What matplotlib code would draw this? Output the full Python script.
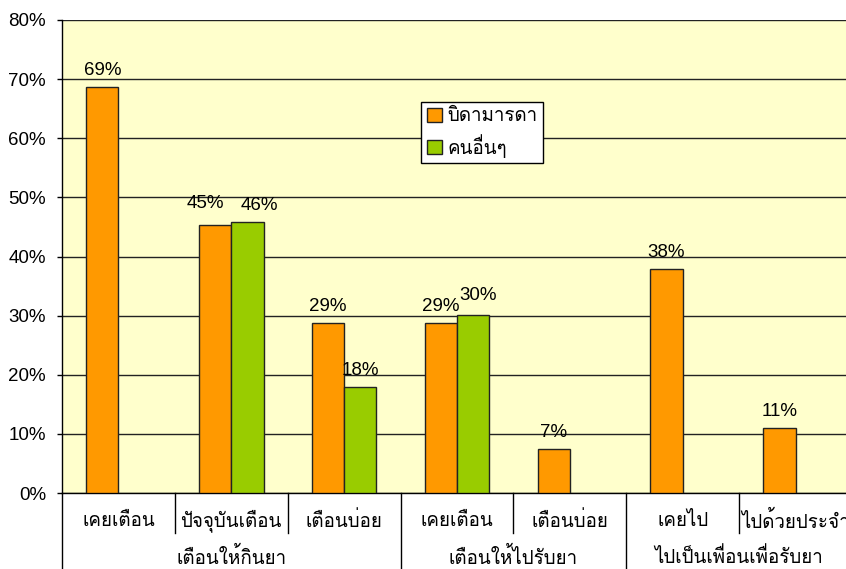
import numpy as np
import matplotlib
matplotlib.use('Agg')
import matplotlib.pyplot as plt
import matplotlib.font_manager as fm
from matplotlib import ft2font
from matplotlib.patches import Patch

# data
categories = ['เคยเตือน', 'ปัจจุบันเตือน', 'เตือนบ่อย', 'เคยเตือน', 'เตือนบ่อย', 'เคยไป', 'ไปด้วยประจำ']
groups = ['เตือนให้กินยา', 'เตือนให้ไปรับยา', 'ไปเป็นเพื่อนเพื่อรับยา']
group_sizes = [3, 2, 2]
series_names = ['บิดามารดา', 'คนอื่นๆ']
parents = [0.686, 0.453, 0.288, 0.287, 0.074, 0.379, 0.110]
others = [None, 0.459, 0.179, 0.301, None, None, None]

# find a font that can draw Thai
thai_family = []
for f in fm.fontManager.ttflist:
    try:
        if 0x0E01 in ft2font.FT2Font(f.fname).get_charmap():
            if f.name not in thai_family:
                thai_family.append(f.name)
    except Exception:
        pass
plt.rcParams['font.family'] = ['Liberation Sans'] + thai_family[:1] + ['DejaVu Sans']
plt.rcParams['font.size'] = 13.5

W, H = 846, 569
fig = plt.figure(figsize=(W / 100, H / 100), dpi=100)
ax = fig.add_axes([62 / W, 76 / H, 790 / W, 473 / H])
ax.set_facecolor('#FFFFCC')

x = np.arange(len(categories))
bw = 0.286
ix_p = [i for i, v in enumerate(parents) if v is not None]
ix_o = [i for i, v in enumerate(others) if v is not None]
ax.bar(x[ix_p] - bw / 2, [parents[i] for i in ix_p], bw, color='#FF9900',
       edgecolor='#222222', linewidth=1, zorder=3)
ax.bar(x[ix_o] + bw / 2, [others[i] for i in ix_o], bw, color='#99CC00',
       edgecolor='#222222', linewidth=1, zorder=3)

# value labels, a few nudged sideways so they don't collide
nudge_p = {1: (-10, 5)}
nudge_o = {1: (12, 0), 3: (5, 3)}
for i in ix_p:
    dx, dy = nudge_p.get(i, (0, 0))
    ax.annotate('{:.0%}'.format(parents[i]), (x[i] - bw / 2, parents[i]),
                xytext=(dx, 12 + dy), textcoords='offset pixels',
                ha='center', va='baseline', zorder=4)
for i in ix_o:
    dx, dy = nudge_o.get(i, (0, 0))
    ax.annotate('{:.0%}'.format(others[i]), (x[i] + bw / 2, others[i]),
                xytext=(dx, 12 + dy), textcoords='offset pixels',
                ha='center', va='baseline', zorder=4)

ax.set_xlim(-0.5, len(categories) - 0.5)
ax.set_ylim(0, 0.8)
ax.set_yticks(np.arange(0, 0.81, 0.1))
ax.set_yticklabels(['{:.0%}'.format(t) for t in np.arange(0, 0.81, 0.1)])
ax.yaxis.grid(True, color='#222222', linewidth=1)
ax.set_axisbelow(True)
ax.tick_params(axis='y', direction='out', length=3.6, width=1, pad=8)
ax.set_xticks([])
for s in ['top', 'right']:
    ax.spines[s].set_visible(False)
ax.spines['left'].set_linewidth(1)
ax.spines['bottom'].set_linewidth(1)

# two level category axis
tr = ax.get_xaxis_transform()
for i, c in enumerate(categories):
    ax.text(i, -28 / 473, c, transform=tr, ha='center', va='center')
bounds = np.cumsum([0] + group_sizes) - 0.5
for b in np.arange(-0.5, len(categories), 1.0):
    depth = -76 / 473 if b in bounds else -40 / 473
    ax.plot([b, b], [0, depth], transform=tr, color='black', lw=1, clip_on=False)
for g, lo, hi in zip(groups, bounds[:-1], bounds[1:]):
    ax.text((lo + hi) / 2, -64 / 473, g, transform=tr, ha='center', va='center')

handles = [Patch(facecolor='#FF9900', edgecolor='#222222'),
           Patch(facecolor='#99CC00', edgecolor='#222222')]
leg = ax.legend(handles, series_names, loc='upper left',
                bbox_to_anchor=(359 / 790, 391 / 473), borderaxespad=0,
                fancybox=False, framealpha=1, edgecolor='black',
                handlelength=0.8, handleheight=0.8, handletextpad=0.3,
                labelspacing=0.45, borderpad=0.3)
leg.get_frame().set_linewidth(1)

fig.savefig('out.png', dpi=100)
